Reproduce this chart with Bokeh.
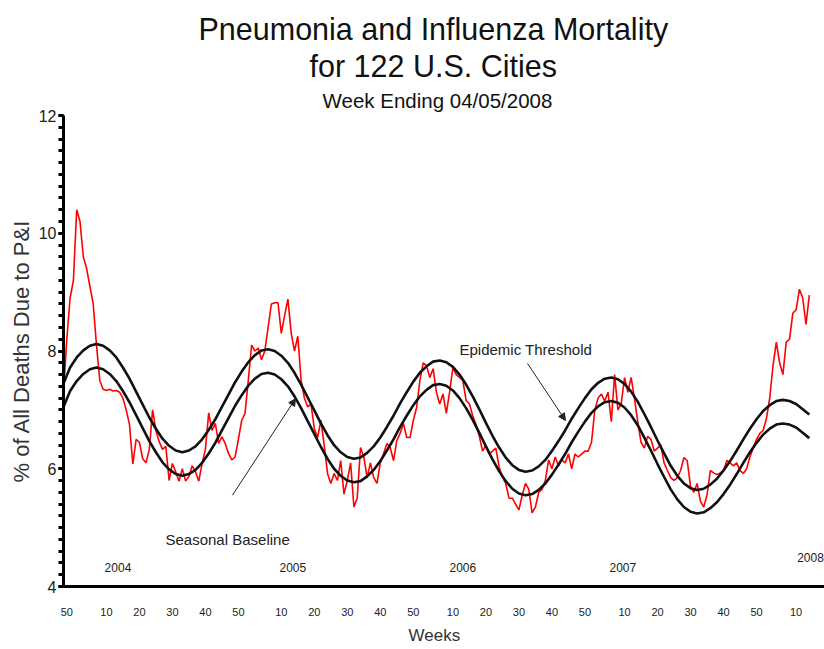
import math
from bokeh.plotting import figure
from bokeh.models import (Range1d, SingleIntervalTicker, FixedTicker, Label, Title,
                          Arrow, NormalHead, ColumnDataSource)
from bokeh.core.properties import value
from bokeh.embed import file_html
from bokeh.resources import INLINE

# MMWR weeks on the chart: 2003 wk 49 -> 2008 wk 14 (week ending 04/05/2008)
season_weeks = [(49, 52), (1, 53), (1, 52), (1, 52), (1, 52), (1, 14)]

# % of all deaths due to P&I, one value per week
pi_pct = [
    7.3, 8.2, 8.9, 9.2, 10.4, 10.2, 9.6, 9.4, 9.1, 8.8,
    8.1, 7.5, 7.35, 7.33, 7.35, 7.32, 7.33, 7.3, 7.2, 7.0,
    6.75, 6.08, 6.5, 6.45, 6.17, 6.1, 6.33, 7.0, 6.65, 6.46,
    6.33, 6.38, 5.8, 6.09, 5.95, 5.79, 6.0, 5.79, 5.87, 6.05,
    5.95, 5.79, 6.09, 6.33, 6.95, 6.65, 6.77, 6.43, 6.54, 6.43,
    6.26, 6.15, 6.2, 6.5, 6.82, 6.94, 7.5, 8.1, 8.0, 8.05,
    7.85, 8.0, 8.4, 8.8, 8.82, 8.82, 8.3, 8.6, 8.88, 8.3,
    8.0, 8.25, 7.5, 7.2, 7.05, 7.1, 6.68, 6.53, 6.82, 6.4,
    5.92, 5.75, 5.92, 5.8, 6.14, 5.57, 5.8, 6.1, 5.35, 5.5,
    6.36, 6.2, 5.85, 6.1, 5.85, 5.75, 6.1, 6.26, 6.43, 6.36,
    6.14, 6.48, 6.6, 6.77, 6.53, 6.53, 6.82, 7.04, 7.5, 7.8,
    7.75, 7.55, 7.7, 7.3, 7.1, 7.27, 6.94, 7.3, 7.72, 7.6,
    7.55, 7.5, 7.16, 7.1, 6.9, 6.75, 6.55, 6.3, 6.4, 6.25,
    6.3, 6.35, 6.03, 5.86, 5.75, 5.5, 5.5, 5.4, 5.3, 5.55,
    5.75, 5.65, 5.25, 5.35, 5.6, 5.65, 5.8, 6.15, 6.0, 6.2,
    6.05, 6.15, 6.1, 6.25, 6.0, 6.25, 6.2, 6.25, 6.3, 6.3,
    6.45, 7.0, 7.2, 7.27, 7.15, 7.3, 6.8, 7.6, 7.0, 7.1,
    7.55, 7.3, 7.55, 7.2, 6.8, 6.45, 6.35, 6.55, 6.5, 6.3,
    6.35, 6.4, 6.1, 5.97, 5.85, 5.8, 5.85, 5.97, 6.19, 6.14,
    5.7, 5.6, 5.75, 5.45, 5.35, 5.55, 5.97, 5.93, 5.9, 5.93,
    5.97, 6.14, 6.1, 6.05, 6.1, 5.97, 5.92, 6.0, 6.2, 6.35,
    6.5, 6.6, 6.65, 6.85, 7.2, 7.75, 8.15, 7.8, 7.6, 8.15,
    8.2, 8.64, 8.7, 9.05, 8.9, 8.45, 8.95,
]

# seasonal baseline and epidemic threshold, read every second week
baseline = [
    7.05, 7.32, 7.49, 7.61, 7.69, 7.72,
    7.69, 7.61, 7.49, 7.32, 7.13, 6.91, 6.69, 6.47, 6.28, 6.11, 5.99, 5.91, 5.88,
    5.91, 5.98, 6.10, 6.26, 6.44, 6.65, 6.86, 7.07, 7.25, 7.41, 7.53, 7.61, 7.63,
    7.60, 7.52, 7.40, 7.23, 7.03, 6.81, 6.59, 6.37, 6.17, 6.00, 5.88, 5.80, 5.77,
    5.79, 5.87, 5.98, 6.13, 6.31, 6.50, 6.71, 6.90, 7.08, 7.23, 7.34, 7.42, 7.44,
    7.41, 7.33, 7.20, 7.03, 6.83, 6.61, 6.38, 6.16, 5.96, 5.79, 5.66, 5.58, 5.55,
    5.57, 5.64, 5.75, 5.90, 6.07, 6.25, 6.45, 6.63, 6.80, 6.95, 7.06, 7.13, 7.15,
    7.12, 7.04, 6.91, 6.74, 6.53, 6.31, 6.08, 5.86, 5.65, 5.48, 5.35, 5.27, 5.24,
    5.26, 5.33, 5.43, 5.57, 5.73, 5.91, 6.10, 6.28, 6.44, 6.58, 6.68, 6.75, 6.77,
    6.75, 6.70, 6.61, 6.52,
]
threshold = [
    7.45, 7.72, 7.89, 8.01, 8.09, 8.12,
    8.09, 8.01, 7.89, 7.72, 7.53, 7.31, 7.09, 6.87, 6.68, 6.51, 6.39, 6.31, 6.28,
    6.31, 6.38, 6.50, 6.66, 6.84, 7.05, 7.26, 7.47, 7.65, 7.81, 7.93, 8.01, 8.03,
    8.00, 7.92, 7.80, 7.63, 7.43, 7.21, 6.99, 6.77, 6.57, 6.40, 6.28, 6.20, 6.17,
    6.19, 6.27, 6.38, 6.53, 6.71, 6.90, 7.11, 7.30, 7.48, 7.63, 7.74, 7.82, 7.84,
    7.81, 7.73, 7.60, 7.43, 7.23, 7.01, 6.78, 6.56, 6.36, 6.19, 6.06, 5.98, 5.95,
    5.97, 6.04, 6.15, 6.30, 6.47, 6.65, 6.85, 7.03, 7.20, 7.35, 7.46, 7.53, 7.55,
    7.52, 7.44, 7.31, 7.14, 6.93, 6.71, 6.48, 6.26, 6.05, 5.88, 5.75, 5.67, 5.64,
    5.66, 5.73, 5.83, 5.97, 6.13, 6.31, 6.50, 6.68, 6.84, 6.98, 7.08, 7.15, 7.17,
    7.15, 7.10, 7.01, 6.92,
]

year_labels = ["2004", "2005", "2006", "2007", "2008"]

# week numbers along the x axis
weeks = []
for first, last in season_weeks:
    weeks += list(range(first, last + 1))
idx = list(range(len(weeks)))
tick_idx = [i for i, w in enumerate(weeks) if w % 10 == 0]

FONT = "Liberation Sans"

p = figure(width=824, height=649, x_range=Range1d(0, 230.6), y_range=Range1d(4, 12),
           output_backend="svg", toolbar_location=None,
           min_border_left=63, min_border_right=0, min_border_top=115, min_border_bottom=63)
p.outline_line_color = None
p.grid.visible = False

# titles (the first one added sits closest to the plot); offsets from frame left
for txt, size, gap, shift in [("Week Ending 04/05/2008", "20.5px", 7, 259),
                              ("for 122 U.S. Cities", "30.5px", 2, 246),
                              ("Pneumonia and Influenza Mortality", "30.5px", 0, 135)]:
    p.add_layout(Title(text=txt, align="left", offset=shift, text_font=FONT,
                       text_font_size=size, text_font_style="normal",
                       text_color="#111111", standoff=gap), "above")

# y axis: thick line, dense outside ticks
p.yaxis.ticker = SingleIntervalTicker(interval=2, num_minor_ticks=10)
p.yaxis.axis_line_width = 3
p.yaxis.major_tick_in = 0
p.yaxis.major_tick_out = 5
p.yaxis.minor_tick_in = 0
p.yaxis.minor_tick_out = 5
p.yaxis.major_tick_line_width = 3
p.yaxis.minor_tick_line_width = 3
p.yaxis.major_label_standoff = 2
p.yaxis.major_label_text_font = FONT
p.yaxis.major_label_text_font_size = "16px"
p.yaxis.major_label_text_color = "#222222"
p.yaxis.axis_label = "% of All Deaths Due to P&I"
p.yaxis.axis_label_standoff = 2
p.yaxis.axis_label_text_font = FONT
p.yaxis.axis_label_text_font_size = "22px"
p.yaxis.axis_label_text_font_style = "normal"
p.yaxis.axis_label_text_color = "#333333"

# x axis: week numbers, no tick marks
p.xaxis.ticker = FixedTicker(ticks=tick_idx, minor_ticks=[])
p.xaxis.major_label_overrides = {i: str(weeks[i]) for i in tick_idx}
p.xaxis.axis_line_width = 3
p.xaxis.major_tick_line_color = None
p.xaxis.minor_tick_line_color = None
p.xaxis.major_label_standoff = 15
p.xaxis.major_label_text_font = FONT
p.xaxis.major_label_text_font_size = "11px"
p.xaxis.major_label_text_color = "#222222"
p.add_layout(Title(text="Weeks", align="left", offset=345, text_font=FONT,
                   text_font_size="17px", text_font_style="normal",
                   text_color="#333333", standoff=10), "below")

p.line(idx, pi_pct, line_color="#ff0000", line_width=1.6)
p.line(idx[::2], baseline, line_color="#111111", line_width=2.6)
p.line(idx[::2], threshold, line_color="#111111", line_width=2.6)

# year markers just above the x axis
yr = ColumnDataSource(dict(x=[16.5, 69.5, 121, 169.5, 230.4], y=[4.32, 4.32, 4.32, 4.32, 4.49],
                           t=year_labels, align=["center"] * 4 + ["right"]))
p.text("x", "y", text="t", source=yr, text_align="align", text_baseline="middle",
       text_font=value(FONT), text_font_size="12px", text_color="#222222")

# annotations
p.add_layout(Label(x=30.9, y=4.80, text="Seasonal Baseline", text_baseline="middle",
                   text_font=FONT, text_font_size="15px", text_color="#222222"))
p.add_layout(Arrow(end=NormalHead(size=7, fill_color="#222222", line_color="#222222"),
                   x_start=51.2, y_start=5.55, x_end=70.3, y_end=7.19,
                   line_color="#222222", line_width=1))
p.add_layout(Label(x=120, y=8.02, text="Epidemic Threshold", text_baseline="middle",
                   text_font=FONT, text_font_size="15px", text_color="#222222"))
p.add_layout(Arrow(end=NormalHead(size=7, fill_color="#222222", line_color="#222222"),
                   x_start=140.6, y_start=7.79, x_end=152.1, y_end=6.82,
                   line_color="#222222", line_width=1))

open("out.html", "w").write(file_html(p, INLINE))
